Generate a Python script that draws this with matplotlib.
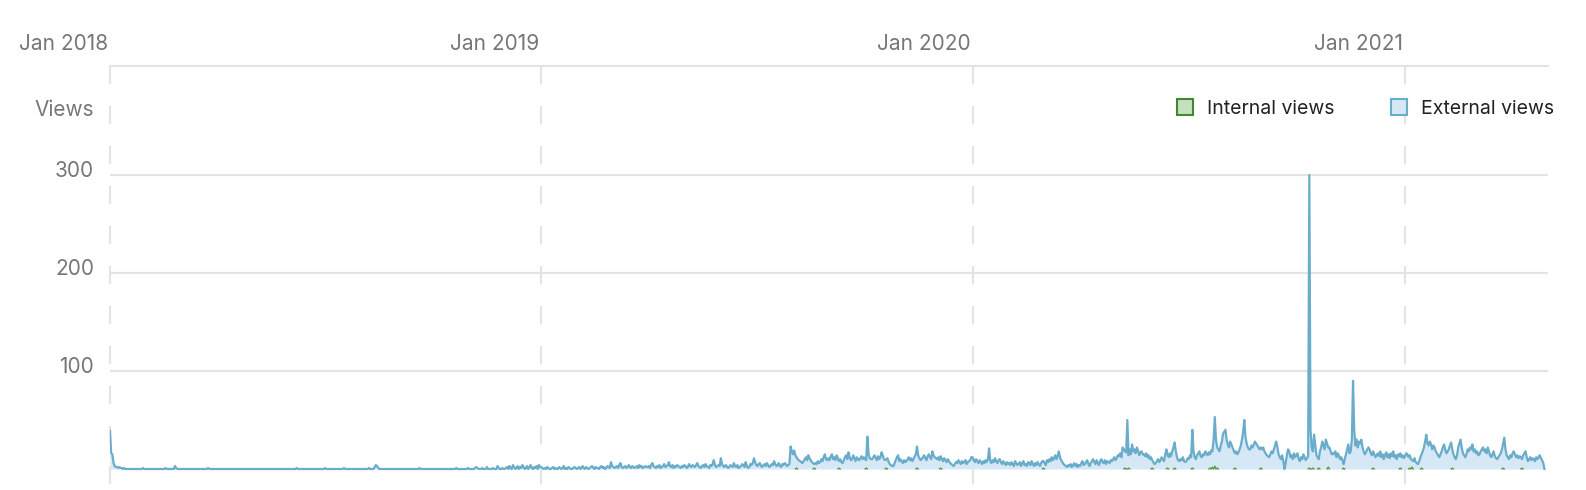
import numpy as np
import pandas as pd
import matplotlib
matplotlib.use("Agg")
import matplotlib.pyplot as plt
from matplotlib.patches import Rectangle
from matplotlib.transforms import blended_transform_factory, ScaledTranslation

# daily external views, one list per year (one line per month)
views_2018 = (
    [39, 16, 15, 6, 3, 2, 2, 1, 2, 1, 1, 0, 1, 0, 0, 0, 0, 0, 0, 0, 0, 0, 0, 0, 0, 0, 0, 0, 1, 0, 0]
    + [0, 0, 0, 0, 0, 0, 0, 0, 0, 0, 0, 0, 0, 0, 0, 0, 1, 0, 0, 0, 0, 0, 0, 0, 3, 1, 0, 0]
    + [0, 0, 0, 0, 0, 0, 0, 0, 0, 0, 0, 0, 0, 0, 0, 0, 0, 0, 0, 0, 0, 0, 0, 0, 1, 0, 0, 0, 0, 0, 0]
    + [0] * 30
    + [0] * 31
    + [0, 0, 0, 0, 0, 0, 0, 1, 0, 0, 0, 0, 0, 0, 0, 0, 0, 0, 0, 0, 0, 0, 0, 0, 0, 0, 0, 0, 0, 0]
    + [0, 1, 0, 0, 0, 0, 0, 0, 0, 0, 0, 0, 0, 0, 0, 0, 0, 1, 0, 0, 0, 0, 0, 0, 0, 0, 0, 0, 0, 0, 0]
    + [0, 0, 0, 0, 0, 0, 0, 1, 0, 0, 0, 0, 2, 4, 3, 1, 0, 0, 0, 0, 0, 0, 0, 0, 0, 0, 0, 0, 0, 0, 0]
    + [0, 0, 0, 0, 0, 0, 0, 0, 0, 0, 0, 0, 0, 0, 0, 0, 0, 0, 0, 1, 0, 0, 0, 0, 0, 0, 0, 0, 0, 0]
    + [0, 0, 0, 0, 0, 0, 0, 0, 0, 0, 0, 0, 0, 0, 0, 0, 0, 0, 0, 0, 1, 0, 0, 0, 0, 0, 0, 0, 0, 0, 1]
    + [0, 0, 0, 0, 0, 1, 2, 1, 0, 0, 0, 1, 0, 0, 0, 2, 0, 0, 0, 0, 1, 0, 0, 0, 3, 1, 0, 0, 1, 0]
    + [0, 1, 2, 0, 3, 1, 0, 4, 2, 0, 1, 3, 0, 2, 1, 4, 2, 0, 1, 3, 0, 2, 4, 1, 0, 2, 1, 3, 0, 4, 2]
)

views_2019 = [
    2, 1, 0, 1, 0, 2, 1, 0, 0, 1, 2, 0, 1, 0, 0, 2, 1, 0, 1, 3, 0, 1, 0, 2, 1, 0, 0, 1, 2, 1, 0,
    1, 2, 0, 1, 3, 1, 0, 2, 1, 0, 1, 2, 3, 1, 0, 2, 1, 1, 0, 2, 3, 1, 2, 0, 1, 3, 2, 1,
    7, 3, 2, 1, 2, 3, 1, 4, 6, 2, 1, 2, 3, 1, 2, 4, 2, 1, 3, 2, 1, 2, 3, 1, 4, 2, 3, 1, 2, 3, 2,
    2, 3, 1, 4, 6, 3, 2, 1, 3, 2, 4, 1, 2, 3, 5, 2, 3, 4, 7, 3, 2, 4, 1, 3, 2, 4, 3, 2, 1, 3,
    2, 4, 3, 1, 2, 5, 3, 2, 4, 3, 2, 4, 6, 3, 2, 1, 3, 4, 2, 5, 3, 2, 1, 4, 3, 5, 9, 4, 2, 3, 4,
    3, 11, 5, 3, 2, 4, 3, 1, 2, 4, 3, 2, 6, 3, 2, 4, 1, 2, 3, 5, 4, 2, 7, 3, 1, 2, 5, 4, 6, 11,
    7, 4, 3, 5, 6, 3, 2, 4, 5, 3, 6, 4, 2, 3, 5, 4, 8, 5, 3, 4, 6, 3, 2, 5, 4, 6, 5, 3, 4, 5, 23,
    18, 15, 19, 14, 12, 10, 9, 8, 7, 6, 8, 10, 12, 9, 14, 11, 9, 7, 6, 5, 6, 5, 8, 6, 7, 10, 8, 12, 15, 10, 9,
    11, 9, 13, 15, 10, 12, 9, 14, 11, 8, 10, 7, 6, 9, 12, 14, 10, 17, 12, 9, 10, 14, 11, 8, 12, 10, 9, 11, 13, 10,
    12, 10, 9, 33, 15, 11, 10, 10, 12, 14, 11, 9, 13, 10, 12, 17, 14, 10, 9, 10, 11, 7, 5, 4, 3, 3, 6, 9, 12, 14, 8,
    10, 8, 6, 9, 7, 8, 10, 12, 9, 11, 8, 10, 13, 15, 23, 14, 11, 9, 10, 12, 14, 11, 9, 13, 15, 12, 10, 18, 14, 12,
    11, 10, 12, 9, 13, 10, 8, 11, 9, 7, 10, 8, 6, 5, 4, 3, 5, 7, 6, 9, 7, 5, 8, 6, 7, 9, 5, 7, 8, 9, 12,
]

views_2020 = [
    12, 9, 7, 10, 8, 6, 9, 7, 5, 8, 6, 9, 7, 10, 21, 8, 6, 9, 7, 11, 8, 6, 9, 10, 7, 5, 8, 6, 4, 7, 5,
    6, 4, 7, 5, 3, 8, 6, 4, 5, 7, 3, 6, 8, 4, 5, 3, 7, 6, 4, 8, 5, 3, 6, 4, 7, 5, 3, 6, 8,
    8, 6, 4, 9, 7, 10, 8, 12, 9, 11, 14, 10, 13, 18, 12, 9, 7, 5, 4, 3, 2, 4, 3, 5, 2, 4, 6, 3, 5, 2, 4,
    3, 6, 8, 4, 5, 7, 9, 5, 3, 6, 8, 10, 7, 5, 9, 6, 4, 8, 10, 7, 6, 9, 5, 8, 7, 6, 9, 8, 10, 12,
    9, 11, 14, 13, 16, 12, 22, 20, 18, 17, 50, 14, 20, 15, 25, 18, 20, 16, 22, 19, 14, 17, 18, 15, 15, 13, 16, 12, 14, 10, 12,
    9, 7, 5, 6, 8, 10, 7, 9, 12, 10, 8, 14, 20, 15, 12, 16, 13, 18, 22, 27, 18, 12, 9, 8, 10, 9, 12, 8, 7, 8,
    11, 10, 14, 12, 40, 18, 12, 10, 14, 16, 18, 13, 12, 15, 14, 18, 16, 14, 17, 15, 19, 18, 30, 53, 30, 22, 20, 18, 24, 28, 36,
    38, 40, 30, 25, 22, 28, 25, 22, 19, 16, 18, 15, 17, 20, 24, 30, 38, 50, 32, 26, 22, 20, 20, 24, 22, 25, 28, 26, 24, 22, 20,
    22, 20, 22, 18, 16, 14, 13, 12, 15, 18, 16, 20, 24, 28, 22, 15, 12, 10, 14, 8, 0, 6, 14, 20, 18, 12, 14, 10, 16, 12,
    14, 16, 10, 8, 12, 10, 15, 12, 9, 11, 13, 300, 40, 22, 18, 35, 25, 14, 12, 10, 18, 22, 28, 24, 20, 30, 26, 22, 22, 18, 15,
    16, 15, 18, 12, 16, 14, 10, 12, 9, 5, 10, 15, 20, 25, 16, 18, 30, 90, 40, 24, 30, 22, 28, 26, 30, 22, 18, 15, 17, 20,
    22, 20, 16, 14, 18, 15, 12, 14, 16, 13, 18, 12, 15, 10, 14, 17, 12, 15, 11, 16, 13, 18, 12, 14, 10, 15, 13, 16, 12, 14, 11,
]

views_2021 = [
    13, 16, 15, 12, 14, 10, 9, 8, 11, 7, 6, 5, 8, 12, 15, 18, 22, 28, 35, 26, 24, 28, 25, 20, 24, 22, 18, 16, 14, 12, 15,
    18, 22, 25, 20, 16, 18, 20, 24, 27, 20, 15, 12, 10, 14, 22, 26, 30, 22, 16, 14, 12, 15, 20, 18, 22, 20, 25, 18,
    20, 16, 18, 14, 15, 18, 20, 22, 18, 20, 16, 22, 18, 14, 12, 15, 18, 13, 11, 10, 12, 14, 16, 20, 26, 32, 20, 14, 12, 10, 14,
    12, 16, 18, 15, 12, 14, 11, 13, 12, 10, 14, 16, 18, 12, 8, 10, 12, 9, 11, 10, 8, 12, 10, 12, 14, 11, 9, 6, 0,
]

# internal views: only the days where there were any
internal_days = [
    "2019-08-05", "2019-08-20", "2019-09-10", "2019-10-03", "2019-10-20", "2019-11-15",
    "2019-12-05", "2020-03-01", "2020-05-09", "2020-05-12", "2020-06-01", "2020-06-14",
    "2020-06-20", "2020-07-05", "2020-07-20", "2020-07-22", "2020-07-24", "2020-07-26",
    "2020-08-10", "2020-09-01", "2020-10-12", "2020-10-15", "2020-10-20", "2020-10-28",
    "2020-11-10", "2020-12-05", "2020-12-28", "2021-01-05", "2021-01-07", "2021-01-15",
    "2021-02-10", "2021-03-25", "2021-04-10",
]
internal_counts = [1, 1, 1, 1, 1, 1, 1, 1, 1, 1, 1, 1, 1, 1, 1, 2, 3, 1, 1, 1, 1, 1, 1, 2,
                   1, 1, 1, 1, 2, 1, 1, 1, 1]

year_labels = ["Jan 2018", "Jan 2019", "Jan 2020", "Jan 2021"]
y_ticks = [100, 200, 300]

# ---- build series ----
external = np.array(views_2018 + views_2019 + views_2020 + views_2021, dtype=float)
dates = pd.date_range("2018-01-01", periods=len(external), freq="D")
internal = pd.Series(internal_counts, index=pd.to_datetime(internal_days))
internal = internal.reindex(dates, fill_value=0).to_numpy(dtype=float)

W, H = 1586, 490
fx = lambda px: px / W
fy = lambda py: 1 - py / H

plt.rcParams["font.family"] = ["Inter", "DejaVu Sans"]
fig = plt.figure(figsize=(W / 100, H / 100), dpi=100)
ax = fig.add_axes([fx(110), fy(485), (1548 - 110) / W, (485 - 66) / H])

ymin = -(485 - 469) / 0.98
ymax = (469 - 66) / 0.98
ax.set_ylim(ymin, ymax)
ax.set_xlim(pd.Timestamp("2018-01-01"), pd.Timestamp("2021-05-02"))

grid_col = "#e3e3e3"
for y in y_ticks:
    ax.axhline(y, color=grid_col, lw=1.5, zorder=0)

year_starts = pd.to_datetime(["2018-01-01", "2019-01-01", "2020-01-01", "2021-01-01"])
for d in year_starts:
    ax.plot([d, d], [ymax, ymin], color=grid_col, lw=1.5,
            dashes=(8.6, 10.6), zorder=0, clip_on=False)

for s in ["left", "right", "bottom"]:
    ax.spines[s].set_visible(False)
ax.spines["top"].set_color(grid_col)
ax.spines["top"].set_linewidth(1.5)
ax.set_xticks([])
ax.set_yticks([])

# external views
ax.fill_between(dates, 0, external, color="#d6e8f5", lw=0, zorder=1)
ax.plot(dates, external, color="#6aadcb", lw=1.6, zorder=3)

# internal views, only drawn around non-zero days
near = (internal > 0) | (np.roll(internal, 1) > 0) | (np.roll(internal, -1) > 0)
ax.fill_between(dates, 0, internal, color="#c6dfc0", lw=0, zorder=2)
ax.plot(dates, np.where(near, internal, np.nan), color="#4d9a3c", lw=0.9, zorder=4)

# text
label_col = "#777777"
tx = blended_transform_factory(ax.transData, fig.transFigure)
off = ScaledTranslation(-2 / 100, 0, fig.dpi_scale_trans)
for d, lab in zip(year_starts, year_labels):
    ax.text(d, fy(44), lab, transform=tx + off, ha="right", va="center",
            fontsize=15, color=label_col)

ty = blended_transform_factory(fig.transFigure, ax.transData)
up = ScaledTranslation(0, 4 / 100, fig.dpi_scale_trans)
for y in y_ticks:
    ax.text(fx(94), y, str(y), transform=ty + up, ha="right", va="center",
            fontsize=15, color=label_col)
fig.text(fx(94), fy(110), "Views", ha="right", va="center", fontsize=15, color=label_col)

# legend
legend_items = [("Internal views", 1177, "#c6dfc0", "#3f8a30"),
                ("External views", 1391, "#d6e8f5", "#6aadcb")]
for name, x0, fc, ec in legend_items:
    fig.patches.append(Rectangle((fx(x0), fy(115)), 16 / W, 16 / H, transform=fig.transFigure,
                                 facecolor=fc, edgecolor=ec, lw=1.5))
    fig.text(fx(x0 + 30), fy(109), name, ha="left", va="center", fontsize=14, color="#222222")

fig.savefig("out.png", dpi=100)
